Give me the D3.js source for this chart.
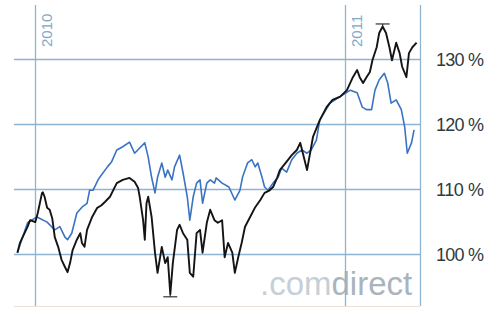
<!DOCTYPE html>
<html>
<head>
<meta charset="utf-8">
<script src="https://cdn.jsdelivr.net/npm/d3@7"></script>
<style>
  body { margin: 0; background: #fff; }
  svg { display: block; font-family: "Liberation Sans", Arial, sans-serif; }
</style>
</head>
<body>
<div id="chart"></div>
<script>
// depot (black) and index (blue), performance in % of start value
var blackDates = ["2009-12-11","2009-12-14","2009-12-23","2009-12-26","2010-01-01","2010-01-04","2010-01-09","2010-01-10",
  "2010-01-12","2010-01-15","2010-01-18","2010-01-21","2010-01-24","2010-01-28","2010-02-01","2010-02-05","2010-02-08",
  "2010-02-11","2010-02-14","2010-02-19","2010-02-23","2010-02-25","2010-02-28","2010-03-03","2010-03-09","2010-03-15",
  "2010-03-20","2010-03-24","2010-03-30","2010-04-07","2010-04-14","2010-04-22","2010-04-28","2010-05-02","2010-05-04",
  "2010-05-08","2010-05-10","2010-05-12","2010-05-14","2010-05-18","2010-05-22","2010-05-25","2010-05-30","2010-06-03",
  "2010-06-06","2010-06-09","2010-06-12","2010-06-17","2010-06-20","2010-06-24","2010-06-29","2010-07-02","2010-07-06",
  "2010-07-10","2010-07-14","2010-07-17","2010-07-22","2010-07-26","2010-07-31","2010-08-04","2010-08-09","2010-08-12",
  "2010-08-16","2010-08-21","2010-08-24","2010-08-28","2010-09-01","2010-09-05","2010-09-11","2010-09-17","2010-09-23",
  "2010-09-28","2010-10-04","2010-10-08","2010-10-13","2010-10-16","2010-10-24","2010-10-30","2010-11-05","2010-11-09",
  "2010-11-14","2010-11-17","2010-11-24","2010-12-02","2010-12-10","2010-12-17","2010-12-26","2011-01-03","2011-01-10",
  "2011-01-15","2011-01-18","2011-01-22","2011-01-26","2011-01-30","2011-02-02","2011-02-07","2011-02-10","2011-02-14",
  "2011-02-18","2011-02-22","2011-02-25","2011-03-02","2011-03-06","2011-03-09","2011-03-14","2011-03-17","2011-03-21",
  "2011-03-26"];
var blackValues = [100.2,101.7,104.2,105.2,104.9,106.3,109.4,109.5,
  108.8,107.1,106.8,105.5,102.6,101.1,99.1,98.0,97.2,
  98.6,100.6,102.2,103.2,101.7,101.1,103.7,105.7,107.1,
  107.5,108.0,108.8,110.9,111.4,111.7,111.1,110.2,108.8,
  105.2,102.2,107.8,108.8,105.7,100.2,97.1,101.1,98.6,
  99.5,93.8,98.6,103.7,104.5,103.2,102.2,97.1,96.5,
  103.2,103.7,100.2,104.8,106.8,105.2,104.8,105.2,99.5,
  101.7,100.2,97.1,99.5,101.7,104.2,105.7,107.2,108.3,
  109.4,109.8,110.3,111.8,112.9,114.2,115.2,116.0,117.1,
  114.5,112.9,118.0,120.6,122.6,123.7,124.2,125.2,127.2,
  128.3,127.2,126.3,127.2,128.0,129.8,131.8,134.0,135.0,
  134.0,131.8,129.8,132.5,130.9,128.8,127.2,130.9,131.8,
  132.5];

var blueDates = ["2009-12-11","2009-12-14","2009-12-23","2010-01-03","2010-01-15","2010-01-24","2010-01-30","2010-02-05",
  "2010-02-08","2010-02-13","2010-02-19","2010-02-25","2010-03-03","2010-03-06","2010-03-10","2010-03-16","2010-03-18",
  "2010-03-27","2010-04-01","2010-04-07","2010-04-14","2010-04-22","2010-04-28","2010-05-04","2010-05-10","2010-05-14",
  "2010-05-18","2010-05-22","2010-05-25","2010-05-30","2010-06-03","2010-06-06","2010-06-11","2010-06-14","2010-06-20",
  "2010-06-24","2010-06-29","2010-07-02","2010-07-06","2010-07-10","2010-07-14","2010-07-17","2010-07-22","2010-07-26",
  "2010-07-31","2010-08-02","2010-08-09","2010-08-17","2010-08-24","2010-08-30","2010-09-02","2010-09-08","2010-09-13",
  "2010-09-17","2010-09-20","2010-09-25","2010-09-28","2010-10-02","2010-10-08","2010-10-14","2010-10-18","2010-10-24",
  "2010-10-30","2010-11-05","2010-11-11","2010-11-17","2010-11-22","2010-11-28","2010-12-02","2010-12-14","2010-12-26",
  "2011-01-07","2011-01-15","2011-01-21","2011-01-26","2011-02-01","2011-02-05","2011-02-10","2011-02-16","2011-02-20",
  "2011-02-24","2011-03-02","2011-03-08","2011-03-12","2011-03-15","2011-03-20","2011-03-23"];
var blueValues = [100.2,101.4,104.8,105.7,104.9,103.7,104.2,102.6,
  102.2,103.2,106.3,107.2,107.8,109.8,109.8,111.4,111.8,
  113.4,114.2,116.0,116.5,117.2,115.5,116.3,117.1,114.9,
  111.8,109.4,111.8,114.0,111.8,112.9,111.4,113.4,115.2,
  112.5,108.8,105.2,108.8,110.9,111.4,107.8,110.9,111.4,
  110.9,111.7,110.9,110.3,108.3,109.8,111.8,114.0,114.5,
  113.4,114.0,111.8,110.3,109.8,110.9,111.8,113.2,112.6,
  114.5,115.5,116.0,115.5,116.0,117.5,120.6,123.2,124.2,
  125.2,124.8,122.6,122.2,122.2,125.2,126.8,127.8,126.3,
  123.2,123.7,122.2,119.5,115.5,117.1,119.1];

var yTicks = [100, 110, 120, 130];
var yearTicks = ["2010-01-01", "2011-01-01"];

var width = 486, height = 309;
var parse = d3.timeParse("%Y-%m-%d");

var black = blackDates.map(function(d, i) { return {date: parse(d), value: blackValues[i]}; });
var blue = blueDates.map(function(d, i) { return {date: parse(d), value: blueValues[i]}; });

var xScale = d3.scaleTime()
    .domain([parse("2009-12-07"), parse("2011-03-30")])
    .range([14, 420]);

var yScale = d3.scaleLinear()
    .domain([92, 138.3])
    .range([306, 5]);

var svg = d3.select("#chart").append("svg")
    .attr("width", width)
    .attr("height", height);

// watermark sits under the grid
var wm = svg.append("text")
    .attr("x", 260)
    .attr("y", 295)
    .style("font-size", "33px");
wm.append("tspan").attr("fill", "#c6cfd7").text(".com");
wm.append("tspan").attr("fill", "#a9b4bd").text("direct");

var gridColor = "#8fb4d2";

// faint bottom edge
svg.append("line")
    .attr("x1", 14).attr("x2", 420)
    .attr("y1", 306.5).attr("y2", 306.5)
    .attr("stroke", "#eedfdb").attr("stroke-width", 1);

svg.append("g")
    .selectAll("line")
    .data(yTicks)
    .enter()
    .append("line")
    .attr("x1", 14).attr("x2", 420)
    .attr("y1", function(d) { return Math.round(yScale(d)) + 0.5; })
    .attr("y2", function(d) { return Math.round(yScale(d)) + 0.5; })
    .attr("stroke", gridColor)
    .attr("stroke-width", 1.3);

// year lines + right edge
var vlines = yearTicks.map(parse);
svg.append("g")
    .selectAll("line")
    .data(vlines)
    .enter()
    .append("line")
    .attr("x1", function(d) { return Math.round(xScale(d)) + 0.5; })
    .attr("x2", function(d) { return Math.round(xScale(d)) + 0.5; })
    .attr("y1", 5).attr("y2", 306)
    .attr("stroke", gridColor)
    .attr("stroke-width", 1.3);

svg.append("line")
    .attr("x1", 420.5).attr("x2", 420.5)
    .attr("y1", 5).attr("y2", 306)
    .attr("stroke", gridColor)
    .attr("stroke-width", 1.3);

svg.append("g")
    .selectAll("text")
    .data(vlines)
    .enter()
    .append("text")
    .attr("transform", function(d) { return "translate(" + (xScale(d) + 17) + ",47)rotate(-90)"; })
    .attr("fill", "#82a8c7")
    .style("font-size", "15px")
    .text(function(d) { return d.getFullYear(); });

// y labels on the right
svg.append("g")
    .selectAll("text")
    .data(yTicks)
    .enter()
    .append("text")
    .attr("x", 436)
    .attr("y", function(d) { return yScale(d) + 7; })
    .attr("fill", "#2f3a40")
    .style("font-size", "18px")
    .attr("textLength", 48)
    .text(function(d) { return d + " %"; });

var line = d3.line()
    .x(function(d) { return xScale(d.date); })
    .y(function(d) { return yScale(d.value); });

svg.append("path")
    .datum(blue)
    .attr("d", line)
    .attr("fill", "none")
    .attr("stroke", "#3a73c2")
    .attr("stroke-width", 1.6)
    .attr("stroke-linejoin", "round");

svg.append("path")
    .datum(black)
    .attr("d", line)
    .attr("fill", "none")
    .attr("stroke", "#141414")
    .attr("stroke-width", 1.9)
    .attr("stroke-linejoin", "round");

// min / max markers of the black series
var bMin = black.reduce(function(a, b) { return b.value < a.value ? b : a; });
var bMax = black.reduce(function(a, b) { return b.value > a.value ? b : a; });
[[bMin, 2.5], [bMax, -2.5]].forEach(function(m) {
    var x = xScale(m[0].date), y = yScale(m[0].value) + m[1];
    svg.append("line")
        .attr("x1", x - 7).attr("x2", x + 7)
        .attr("y1", y).attr("y2", y)
        .attr("stroke", "#333").attr("stroke-width", 1.2);
    svg.append("line")
        .attr("x1", x).attr("x2", x)
        .attr("y1", yScale(m[0].value)).attr("y2", y)
        .attr("stroke", "#333").attr("stroke-width", 1.2);
});
</script>
</body>
</html>
